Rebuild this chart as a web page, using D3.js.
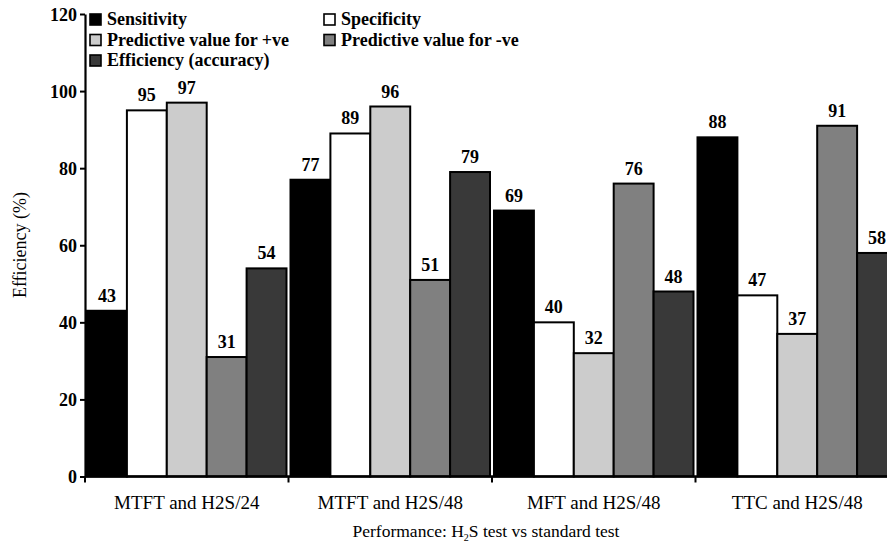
<!DOCTYPE html>
<html>
<head>
<meta charset="utf-8">
<script src="https://cdn.jsdelivr.net/npm/d3@7"></script>
<style>
  html, body { margin: 0; padding: 0; background: #fff; }
  svg { display: block; }
</style>
</head>
<body>
<svg id="chart" width="887" height="556"></svg>
<script>
// Test combinations shown along the x axis
const categories = ["MTFT and H2S/24", "MTFT and H2S/48", "MFT and H2S/48", "TTC and H2S/48"];

// Performance measures (%), one value per test combination
const seriesNames = ["Sensitivity", "Specificity", "Predictive value for +ve", "Predictive value for -ve", "Efficiency (accuracy)"];
const sensitivity = [43, 77, 69, 88];
const specificity = [95, 89, 40, 47];
const ppvPositive = [97, 96, 32, 37];
const npvNegative = [31, 51, 76, 91];
const efficiency = [54, 79, 48, 58];
const seriesValues = [sensitivity, specificity, ppvPositive, npvNegative, efficiency];
const seriesFills = ["#000000", "#ffffff", "#cccccc", "#808080", "#393939"];

const yTicks = [0, 20, 40, 60, 80, 100, 120];

const FONT = "Liberation Serif";

// Apply the serif face and size to a text selection
function serif(sel, size, bold) {
  sel.attr("font-family", FONT)
    .style("font-family", FONT)
    .attr("font-size", size)
    .style("font-size", size + "px")
    .style("font-weight", bold ? "bold" : "normal")
    .attr("fill", "#000");
  return sel;
}

const svg = d3.select("#chart");

const x0 = 85, groupW = 203.5;
const x = d3.scaleBand()
  .domain(categories)
  .range([x0, x0 + groupW * categories.length])
  .paddingInner(0).paddingOuter(0);

const xInner = d3.scaleBand()
  .domain(d3.range(seriesNames.length))
  .range([2, groupW - 2])
  .padding(0);

const y = d3.scaleLinear().domain([0, 120]).range([476.5, 14]);

// Bars
const rows = [];
categories.forEach((c, ci) => {
  seriesValues.forEach((vals, si) => rows.push({ c, si, v: vals[ci] }));
});

svg.append("g").selectAll("rect")
  .data(rows)
  .join("rect")
  .attr("x", d => x(d.c) + xInner(d.si))
  .attr("y", d => y(d.v))
  .attr("width", xInner.bandwidth())
  .attr("height", d => y(0) - y(d.v))
  .attr("fill", d => seriesFills[d.si])
  .attr("stroke", "#000")
  .attr("stroke-width", 2);

// Value labels
svg.append("g").selectAll("text")
  .data(rows)
  .join("text")
  .attr("x", d => x(d.c) + xInner(d.si) + xInner.bandwidth() / 2)
  .attr("y", d => y(d.v) - 9)
  .attr("text-anchor", "middle")
  .call(serif, 18, true)
  .text(d => d.v);

// Y axis
const yAxis = svg.append("g")
  .attr("transform", `translate(${x0},0)`)
  .call(d3.axisLeft(y).tickValues(yTicks).tickSize(5).tickSizeOuter(0).tickPadding(3));
yAxis.attr("font-family", FONT);
yAxis.select(".domain").attr("stroke", "#000").attr("stroke-width", 2.2);
yAxis.selectAll(".tick line").attr("stroke", "#000").attr("stroke-width", 2);
yAxis.selectAll(".tick text")
  .call(serif, 18, true)
  .attr("dy", "0.35em");

// X axis: boundary ticks between groups
const xAxisY = y(0);
svg.append("line")
  .attr("x1", x0).attr("x2", 887)
  .attr("y1", xAxisY).attr("y2", xAxisY)
  .attr("stroke", "#000").attr("stroke-width", 2.5);

const bounds = categories.map(c => x(c));
svg.append("g").selectAll("line")
  .data(bounds)
  .join("line")
  .attr("x1", d => d).attr("x2", d => d)
  .attr("y1", xAxisY).attr("y2", xAxisY + 6)
  .attr("stroke", "#000").attr("stroke-width", 2);

svg.append("g").selectAll("text")
  .data(categories)
  .join("text")
  .attr("x", d => x(d) + x.bandwidth() / 2)
  .attr("y", 509)
  .attr("text-anchor", "middle")
  .call(serif, 19, false)
  .text(d => d);

// Axis titles
const xt = svg.append("text")
  .attr("x", 486).attr("y", 537)
  .attr("text-anchor", "middle")
  .call(serif, 17.5, false);
xt.append("tspan").text("Performance: H");
xt.append("tspan").attr("dy", 4).style("font-size", "10px").text("2");
xt.append("tspan").attr("dy", -4).text("S test vs standard test");

svg.append("text")
  .attr("transform", "translate(26,245) rotate(-90)")
  .attr("text-anchor", "middle")
  .call(serif, 18, false)
  .text("Efficiency (%)");

// Legend
const legendPos = [
  [89, 25], [323, 25],
  [89, 45.5], [323, 45.5],
  [89, 66]
];
const legend = svg.append("g").selectAll("g")
  .data(seriesNames)
  .join("g")
  .attr("transform", (d, i) => `translate(${legendPos[i][0]},${legendPos[i][1]})`);
legend.append("rect")
  .attr("x", 1).attr("y", -11)
  .attr("width", 11).attr("height", 11)
  .attr("fill", (d, i) => seriesFills[i])
  .attr("stroke", "#000").attr("stroke-width", 1.6);
legend.append("text")
  .attr("x", 18).attr("y", 0)
  .call(serif, 18, true)
  .text(d => d);
</script>
</body>
</html>
